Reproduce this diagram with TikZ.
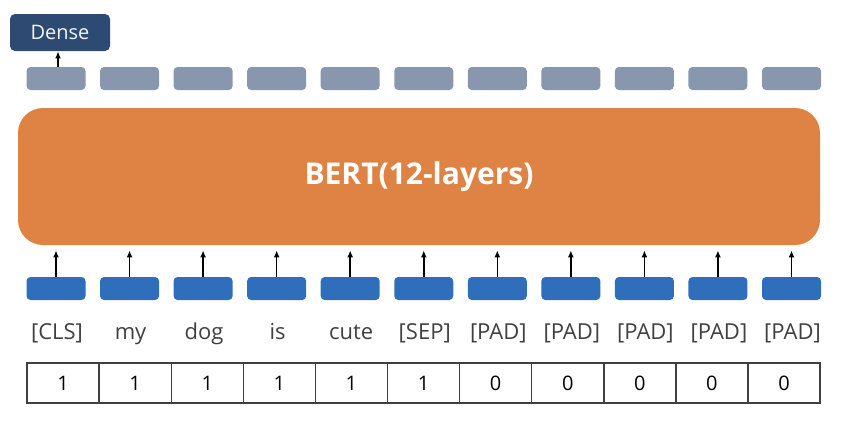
\documentclass[tikz,border=0pt]{standalone}
\usepackage{fontspec}
\setmainfont{Open Sans}
\usetikzlibrary{arrows.meta}
\definecolor{bertorange}{HTML}{DF8344}
\definecolor{embblue}{HTML}{2F6EBA}
\definecolor{outgray}{HTML}{8896AE}
\definecolor{densenavy}{HTML}{2C4A72}
\definecolor{tokgray}{HTML}{404040}

\begin{document}
\begin{tikzpicture}[x=0.5pt,y=-0.5pt,
 emb/.style={rounded corners=2pt,minimum width=29.5pt,minimum height=11.5pt,inner sep=0pt},
 cell/.style={draw=tokgray,line width=0.7pt,minimum width=36.05pt,minimum height=20pt,inner sep=0pt,font=\fontsize{10}{12}\selectfont},
 ar/.style={-{Latex[length=3.5pt,width=3pt]},line width=0.8pt}]
\useasboundingbox (0,0) rectangle (864,420);
% encoder block
\node[rounded corners=12.5pt,fill=bertorange,minimum width=401pt,minimum height=68.5pt,
 text=white,font=\bfseries\fontsize{15}{18}\selectfont] (bert) at (419,176.5) {BERT(12-layers)};
% classifier head
\node[rounded corners=2.5pt,fill=densenavy,minimum width=50pt,minimum height=18.5pt,inner sep=0pt,
 text=white!92!gray,font=\fontsize{10}{12}\selectfont] (dense) at (60,32.5) {Dense};
% outputs, inputs, tokens
\foreach \tok [count=\i from 0] in {[CLS],my,dog,is,cute,[SEP],[PAD],[PAD],[PAD],[PAD],[PAD]} {
 \node[emb,fill=outgray] (g\i) at ({56+73.55*\i},78.5) {};
 \node[emb,fill=embblue] (e\i) at ({56+73.55*\i},288.5) {};
 \node[anchor=base,text=tokgray,inner sep=0pt,font=\fontsize{11}{13}\selectfont] (t\i) at ({57+73.55*\i},339) {\tok};
 \draw[ar,shorten >=2.5pt] (e\i.north) -- (e\i.north |- bert.south);
}
\draw[ar] ([xshift=1pt]g0.north) -- ([xshift=1pt]g0.north |- dense.south);
% attention mask
\foreach \d [count=\i from 0] in {1,1,1,1,1,1,0,0,0,0,0}
 \node[cell] (m\i) at ({63.05+72.1*\i},383) {\d};
\end{tikzpicture}
\end{document}
